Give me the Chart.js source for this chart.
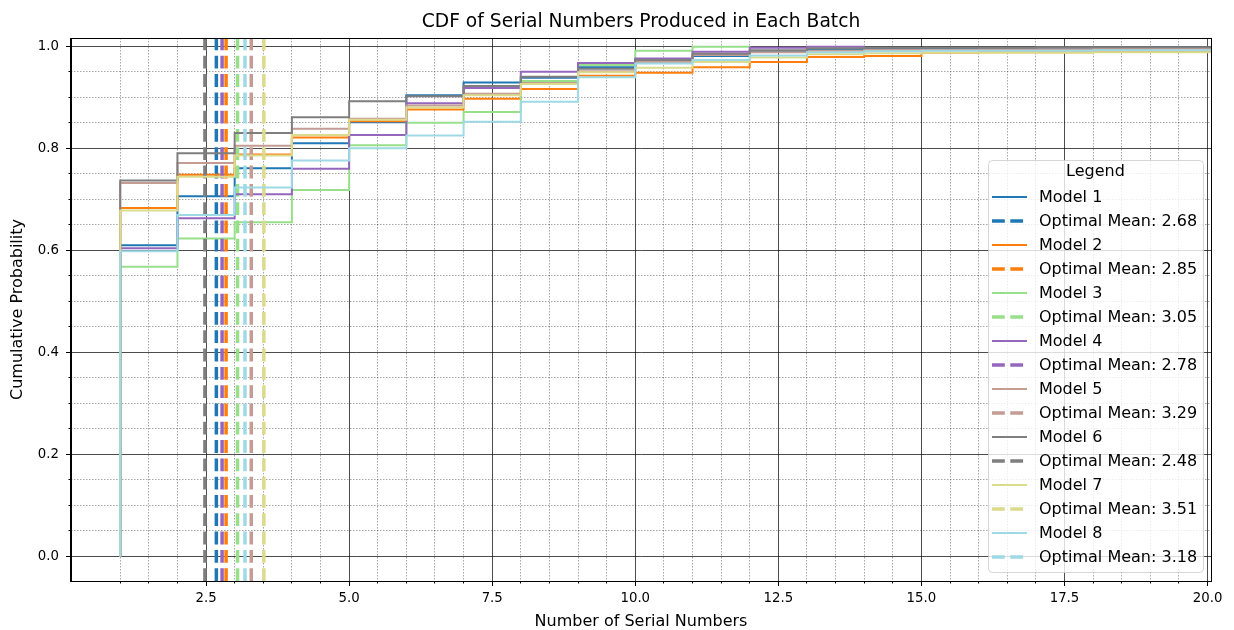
<!DOCTYPE html>
<html>
<head>
<meta charset="utf-8">
<title>CDF of Serial Numbers Produced in Each Batch</title>
<script src="https://cdn.jsdelivr.net/npm/chart.js@4.4.1/dist/chart.umd.min.js"></script>
<style>
  html, body { margin: 0; padding: 0; background: #fff; }
  #wrap { width: 1234px; height: 630px; }
</style>
</head>
<body>
<div id="wrap"><canvas id="chart" width="1234" height="630"></canvas></div>
<script>
'use strict';

// data

let modelNames = ['Model 1', 'Model 2', 'Model 3', 'Model 4', 'Model 5', 'Model 6', 'Model 7', 'Model 8'];
let optimalMeans = [2.68, 2.85, 3.05, 2.78, 3.29, 2.48, 3.51, 3.18];
let modelColors = ['#1f77b4', '#ff7f0e', '#98df8a', '#9467bd', '#c49c94', '#7f7f7f', '#dbdb8d', '#9edae5'];

// cumulative probability at serial number 1, 2, 3, ...
let cdfModel1 = [0.610, 0.706, 0.761, 0.810, 0.851, 0.904, 0.929, 0.938, 0.959, 0.971, 0.981, 0.989, 0.993, 0.995, 0.995, 0.996, 0.996, 0.996, 0.997, 0.997];
let cdfModel2 = [0.683, 0.748, 0.788, 0.821, 0.853, 0.876, 0.897, 0.916, 0.942, 0.948, 0.959, 0.969, 0.979, 0.981, 0.987, 0.988, 0.988, 0.989, 0.989, 0.990];
let cdfModel3 = [0.568, 0.623, 0.655, 0.718, 0.806, 0.850, 0.871, 0.932, 0.963, 0.991, 0.999, 1.000];
let cdfModel4 = [0.604, 0.663, 0.710, 0.760, 0.826, 0.888, 0.918, 0.950, 0.967, 0.976, 0.989, 0.997, 0.999, 1.000];
let cdfModel5 = [0.732, 0.771, 0.805, 0.838, 0.858, 0.884, 0.907, 0.928, 0.951, 0.969, 0.983, 0.988, 0.991, 0.993, 0.993, 0.994, 0.994, 0.995, 0.995, 0.995];
let cdfModel6 = [0.737, 0.790, 0.830, 0.861, 0.892, 0.902, 0.922, 0.940, 0.956, 0.973, 0.985, 0.992, 0.996, 0.997, 0.997, 0.997, 0.998, 0.998, 0.998, 0.998];
let cdfModel7 = [0.678, 0.744, 0.786, 0.826, 0.856, 0.880, 0.904, 0.926, 0.949, 0.958, 0.969, 0.978, 0.984, 0.986, 0.987, 0.987, 0.987, 0.988, 0.988, 0.988];
let cdfModel8 = [0.598, 0.669, 0.723, 0.776, 0.800, 0.825, 0.852, 0.891, 0.939, 0.966, 0.973, 0.982, 0.988, 0.990, 0.991, 0.991, 0.991, 0.992, 0.992, 0.992];
let allCdfs = [cdfModel1, cdfModel2, cdfModel3, cdfModel4, cdfModel5, cdfModel6, cdfModel7, cdfModel8];

// axis ticks
let xTickValues = [2.5, 5.0, 7.5, 10.0, 12.5, 15.0, 17.5, 20.0];
let yTickValues = [0.0, 0.2, 0.4, 0.6, 0.8, 1.0];
let X_MIN = 0.14;
let X_MAX = 20.06;
let Y_MIN = -0.048;
let Y_MAX = 1.016;

const FONT = "'DejaVu Sans', 'Liberation Sans', sans-serif";
Chart.defaults.font.family = FONT;
Chart.defaults.color = '#000';

// step points: start at zero on serial number 1, then one point per serial number
function stepPoints(values) {
  let pts = [{ x: 1, y: 0 }];
  for (let i = 0; i < values.length; i++) {
    pts.push({ x: i + 1, y: values[i] });
  }
  // series that run to the end of the axis keep going past the right edge
  if (values.length >= 20) {
    pts.push({ x: values.length + 1, y: values[values.length - 1] });
  }
  return pts;
}

let datasets = [];
for (let i = 0; i < allCdfs.length; i++) {
  datasets.push({
    label: modelNames[i],
    data: stepPoints(allCdfs[i]),
    borderColor: modelColors[i],
    borderWidth: 2,
    stepped: 'before',
    pointRadius: 0,
    fill: false,
    order: -2 * i
  });
  datasets.push({
    label: 'Optimal Mean: ' + optimalMeans[i].toFixed(2),
    data: [{ x: optimalMeans[i], y: Y_MIN }, { x: optimalMeans[i], y: Y_MAX }],
    borderColor: modelColors[i],
    borderWidth: 3.5,
    borderDash: [12.8, 5.5],
    pointRadius: 0,
    fill: false,
    order: -2 * i - 1
  });
}

function isMultiple(v, step) {
  return Math.abs(v / step - Math.round(v / step)) < 1e-6;
}

// frame on top of the lines, then the legend box
const framePlugin = {
  id: 'frameAndLegend',
  afterDatasetsDraw(chart) {
    const ctx = chart.ctx;
    const a = chart.chartArea;
    ctx.save();
    ctx.strokeStyle = '#000';
    ctx.lineWidth = 1;
    ctx.strokeRect(Math.round(a.left) - 0.5, Math.round(a.top) + 0.5, Math.round(a.right - a.left) + 1, Math.round(a.bottom - a.top));

    // legend
    const boxW = 215, boxH = 412;
    const left = a.right - 8 - boxW;
    const top = a.bottom - 9 - boxH;
    ctx.beginPath();
    ctx.roundRect(Math.round(left) + 0.5, Math.round(top) + 0.5, boxW, boxH, 4);
    ctx.fillStyle = 'rgba(255,255,255,0.8)';
    ctx.fill();
    ctx.strokeStyle = 'rgba(204,204,204,0.8)';
    ctx.stroke();

    ctx.font = '16px ' + FONT;
    ctx.fillStyle = '#000';
    ctx.textBaseline = 'middle';
    ctx.textAlign = 'center';
    ctx.fillText('Legend', left + boxW / 2, top + 12);

    ctx.textAlign = 'left';
    chart.data.datasets.forEach((ds, i) => {
      const y = top + 37 + i * 24;
      ctx.beginPath();
      ctx.strokeStyle = ds.borderColor;
      ctx.lineWidth = ds.borderWidth;
      ctx.setLineDash(ds.borderDash || []);
      ctx.moveTo(left + 4, y);
      ctx.lineTo(left + 39, y);
      ctx.stroke();
      ctx.setLineDash([]);
      ctx.fillText(ds.label, left + 51, y + 1);
    });
    ctx.restore();
  }
};

const ctx = document.getElementById('chart').getContext('2d');
const myChart = new Chart(ctx, { //eslint-disable-line
  type: 'line',
  data: { datasets: datasets },
  options: {
    responsive: false,
    animation: false,
    devicePixelRatio: 1,
    events: [],
    layout: { padding: { left: 0, right: 23, top: 0, bottom: 0 } },
    plugins: {
      legend: { display: false },
      tooltip: { enabled: false },
      title: {
        display: true,
        fullSize: false,
        text: 'CDF of Serial Numbers Produced in Each Batch',
        font: { size: 18.7, weight: 'normal', family: FONT },
        color: '#000',
        padding: { top: 10.8, bottom: 4.8 }
      }
    },
    scales: {
      x: {
        type: 'linear',
        position: 'bottom',
        min: X_MIN,
        max: X_MAX,
        weight: 0,
        afterFit: (s) => { s.height = 49; },
        afterBuildTicks: (s) => { s.ticks = xTickValues.map(v => ({ value: v })); },
        ticks: {
          callback: (v) => Number(v).toFixed(1),
          font: { size: 13.3 },
          color: '#000',
          padding: 5,
          maxRotation: 0,
          autoSkip: false
        },
        grid: { color: 'rgba(0,0,0,0.7)', lineWidth: 1, tickLength: 5, tickColor: '#000' },
        border: { color: '#000', width: 1 },
        title: {
          display: true,
          text: 'Number of Serial Numbers',
          font: { size: 16 },
          color: '#000',
          padding: { top: 0, bottom: -1 }
        }
      },
      xMinor: {
        type: 'linear',
        position: 'bottom',
        min: X_MIN,
        max: X_MAX,
        weight: -1,
        afterFit: (s) => { s.height = 0; },
        afterBuildTicks: (s) => {
          s.ticks = s.ticks.filter(t => isMultiple(t.value, 0.5) && !isMultiple(t.value, 2.5));
        },
        ticks: { display: false, stepSize: 0.5 },
        grid: { color: 'rgba(0,0,0,0.35)', lineWidth: 1, tickLength: 2.5, tickColor: '#000' },
        border: { display: false, dash: [1.5, 1.5] }
      },
      y: {
        type: 'linear',
        position: 'left',
        min: Y_MIN,
        max: Y_MAX,
        weight: 0,
        afterFit: (s) => { s.width = 71; },
        afterBuildTicks: (s) => { s.ticks = yTickValues.map(v => ({ value: v })); },
        ticks: {
          callback: (v) => Number(v).toFixed(1),
          font: { size: 13.3 },
          color: '#000',
          padding: 7
        },
        grid: { color: 'rgba(0,0,0,0.7)', lineWidth: 1, tickLength: 5, tickColor: '#000' },
        border: { color: '#000', width: 1 },
        title: {
          display: true,
          text: 'Cumulative Probability',
          font: { size: 16 },
          color: '#000',
          padding: { top: 8.5, bottom: 0 }
        }
      },
      yMinor: {
        type: 'linear',
        position: 'left',
        min: Y_MIN,
        max: Y_MAX,
        weight: -1,
        afterFit: (s) => { s.width = 0; },
        afterBuildTicks: (s) => {
          s.ticks = s.ticks.filter(t => isMultiple(t.value, 0.05) && !isMultiple(t.value, 0.2));
        },
        ticks: { display: false, stepSize: 0.05 },
        grid: { color: 'rgba(0,0,0,0.35)', lineWidth: 1, tickLength: 2.5, tickColor: '#000' },
        border: { display: false, dash: [1.5, 1.5] }
      }
    }
  },
  plugins: [framePlugin]
});
</script>
</body>
</html>
